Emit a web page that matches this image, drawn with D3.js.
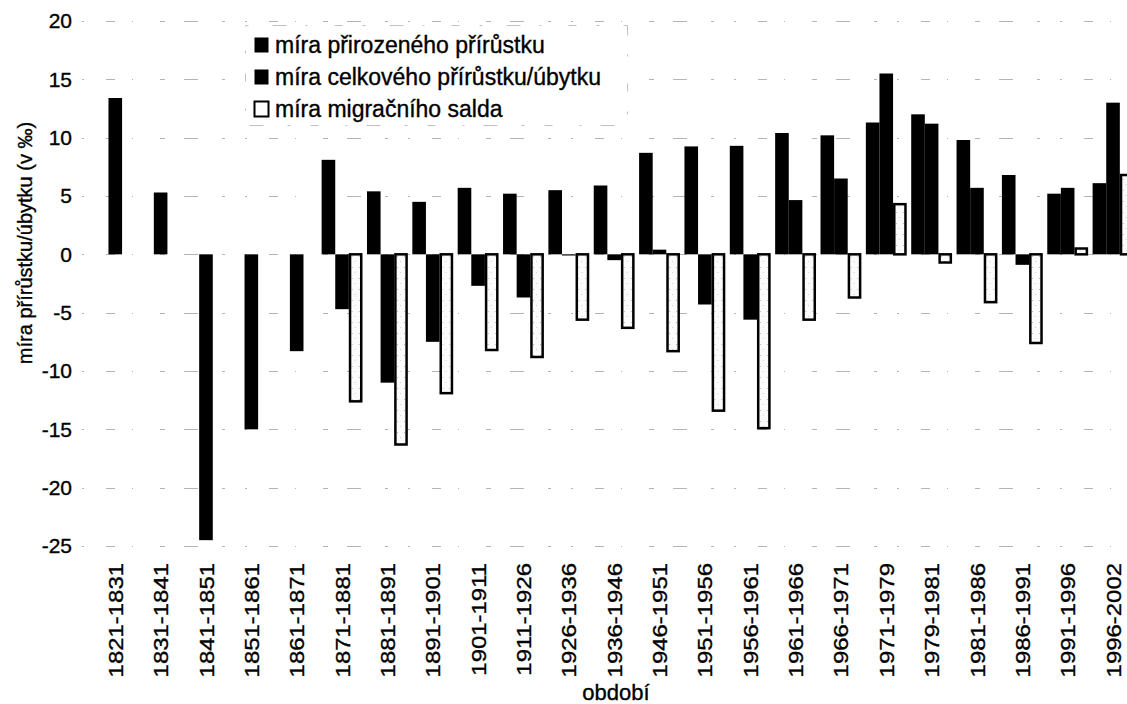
<!DOCTYPE html>
<html>
<head>
<meta charset="utf-8">
<script src="https://cdn.jsdelivr.net/npm/d3@7"></script>
<style>
  html, body { margin: 0; padding: 0; background: #fff; }
  svg { display: block; font-family: "Liberation Sans", Arial, sans-serif; }
  svg text { stroke: #000; stroke-width: 0.35px; }
</style>
</head>
<body>
<svg id="chart" width="1127" height="704"></svg>
<script>
// Periods between censuses
const periods = ["1821-1831","1831-1841","1841-1851","1851-1861","1861-1871","1871-1881",
  "1881-1891","1891-1901","1901-1911","1911-1926","1926-1936","1936-1946","1946-1951",
  "1951-1956","1956-1961","1961-1966","1966-1971","1971-1979","1979-1981","1981-1986",
  "1986-1991","1991-1996","1996-2002"];

// Rates in per mille; null where the figure is not available
const naturalRate = [null, null, null, null, null, 8.1, 5.4, 4.5, 5.7, 5.2, 5.5, 5.9, 8.7,
  9.25, 9.3, 10.4, 10.2, 11.3, 12.0, 9.8, 6.8, 5.2, 6.1];
const totalRate = [13.4, 5.3, -24.5, -15.0, -8.3, -4.7, -11.0, -7.5, -2.7, -3.7, -0.1, -0.5, 0.4,
  -4.3, -5.6, 4.65, 6.5, 15.5, 11.2, 5.7, -0.9, 5.7, 13.0];
const migrationRate = [null, null, null, null, null, -12.6, -16.3, -11.9, -8.2, -8.8, -5.6, -6.3, -8.3,
  -13.4, -14.9, -5.6, -3.7, 4.3, -0.7, -4.1, -7.6, 0.5, 6.8];

const seriesNames = ["míra přirozeného přírůstku", "míra celkového přírůstku/úbytku", "míra migračního salda"];
const seriesKeys = ["natural", "total", "migration"];
const yTicks = [20, 15, 10, 5, 0, -5, -10, -15, -20, -25];

const rows = periods.map((p, i) => ({
  period: p,
  natural: naturalRate[i],
  total: totalRate[i],
  migration: migrationRate[i]
}));

const svg = d3.select("#chart");

const x0 = d3.scaleBand().domain(periods).range([92.6, 1135.7]).paddingInner(0.1).paddingOuter(0.05);
const x1 = d3.scaleBand().domain(seriesKeys).range([0, x0.bandwidth()]);
const y = d3.scaleLinear().domain([-25, 20]).range([546, 21]);

// speckled fill for the migration bars
const defs = svg.append("defs");
const pat = defs.append("pattern").attr("id", "speckle").attr("patternUnits", "userSpaceOnUse")
  .attr("width", 7).attr("height", 11);
pat.append("rect").attr("width", 7).attr("height", 11).attr("fill", "#fbfbfb");
pat.append("rect").attr("x", 2).attr("y", 3).attr("width", 1).attr("height", 1).attr("fill", "#b5b5b5");
pat.append("rect").attr("x", 5).attr("y", 8).attr("width", 1).attr("height", 1).attr("fill", "#cfcfcf");

// gridlines (faint, broken)
svg.append("g").selectAll("line").data(yTicks).join("line")
  .attr("x1", 82).attr("x2", 1127)
  .attr("y1", d => Math.round(y(d)) + 0.5).attr("y2", d => Math.round(y(d)) + 0.5)
  .attr("stroke", "#b4b4b4").attr("stroke-width", 1)
  .attr("stroke-dasharray", "2,22,9,17,1,27,5,19,14,24,3,20");

// y tick labels
const yAxis = d3.axisLeft(y).tickValues(yTicks).tickSize(0).tickPadding(0).tickFormat(d => String(d));
const gy = svg.append("g").attr("transform", "translate(72,0)").call(yAxis);
gy.select(".domain").remove();
gy.selectAll("text").attr("font-size", 21).attr("fill", "#000")
  .attr("font-family", "Liberation Sans, Arial, sans-serif");

// bars
const groups = svg.append("g").selectAll("g").data(rows).join("g")
  .attr("transform", d => `translate(${x0(d.period)},0)`);

groups.selectAll("rect")
  .data(d => seriesKeys.map(k => ({ key: k, value: d[k] })).filter(e => e.value !== null))
  .join("rect")
  .attr("x", d => x1(d.key) + (d.key === "migration" ? 1.2 : 0))
  .attr("width", d => x1.bandwidth() - (d.key === "migration" ? 2.4 : 0))
  .attr("y", d => y(Math.max(0, d.value)))
  .attr("height", d => Math.max(Math.abs(y(d.value) - y(0)), d.key === "migration" ? 1 : 0))
  .attr("fill", d => d.key === "migration" ? "url(#speckle)" : "#000")
  .attr("stroke", d => d.key === "migration" ? "#000" : "none")
  .attr("stroke-width", 2.5);

// x tick labels, rotated and slightly stretched along the text
const xAxis = d3.axisBottom(x0).tickSize(0).tickPadding(0);
const gx = svg.append("g").call(xAxis);
gx.select(".domain").remove();
gx.selectAll(".tick text")
  .attr("font-size", 21).attr("fill", "#000")
  .attr("font-family", "Liberation Sans, Arial, sans-serif")
  .attr("text-anchor", "end")
  .attr("y", 0).attr("x", 0).attr("dy", "0.36em")
  .attr("transform", "translate(0,563) rotate(-90) scale(1.14,1)");

// axis titles
svg.append("text").attr("x", 616).attr("y", 700).attr("text-anchor", "middle")
  .attr("font-size", 22).text("období");
svg.append("text").attr("transform", "translate(32,243) rotate(-90)").attr("text-anchor", "middle")
  .attr("font-size", 20).text("míra přírůstku/úbytku (v ‰)");

// legend
const legend = svg.append("g");
legend.append("rect").attr("x", 245.5).attr("y", 25.5).attr("width", 382).attr("height", 100)
  .attr("fill", "#fff").attr("stroke", "#c0c0c0").attr("stroke-width", 1)
  .attr("stroke-dasharray", "3,24,14,19,2,27,8,20");
const items = legend.selectAll("g").data(seriesNames).join("g")
  .attr("transform", (d, i) => `translate(254,${45 + i * 32})`);
items.append("rect").attr("x", 0.5).attr("y", -7.5).attr("width", 14).attr("height", 15)
  .attr("fill", (d, i) => i === 2 ? "#fff" : "#000")
  .attr("stroke", "#000").attr("stroke-width", (d, i) => i === 2 ? 2 : 0);
items.append("text").attr("x", 21).attr("dy", "0.36em").attr("font-size", 23).text(d => d);
</script>
</body>
</html>
